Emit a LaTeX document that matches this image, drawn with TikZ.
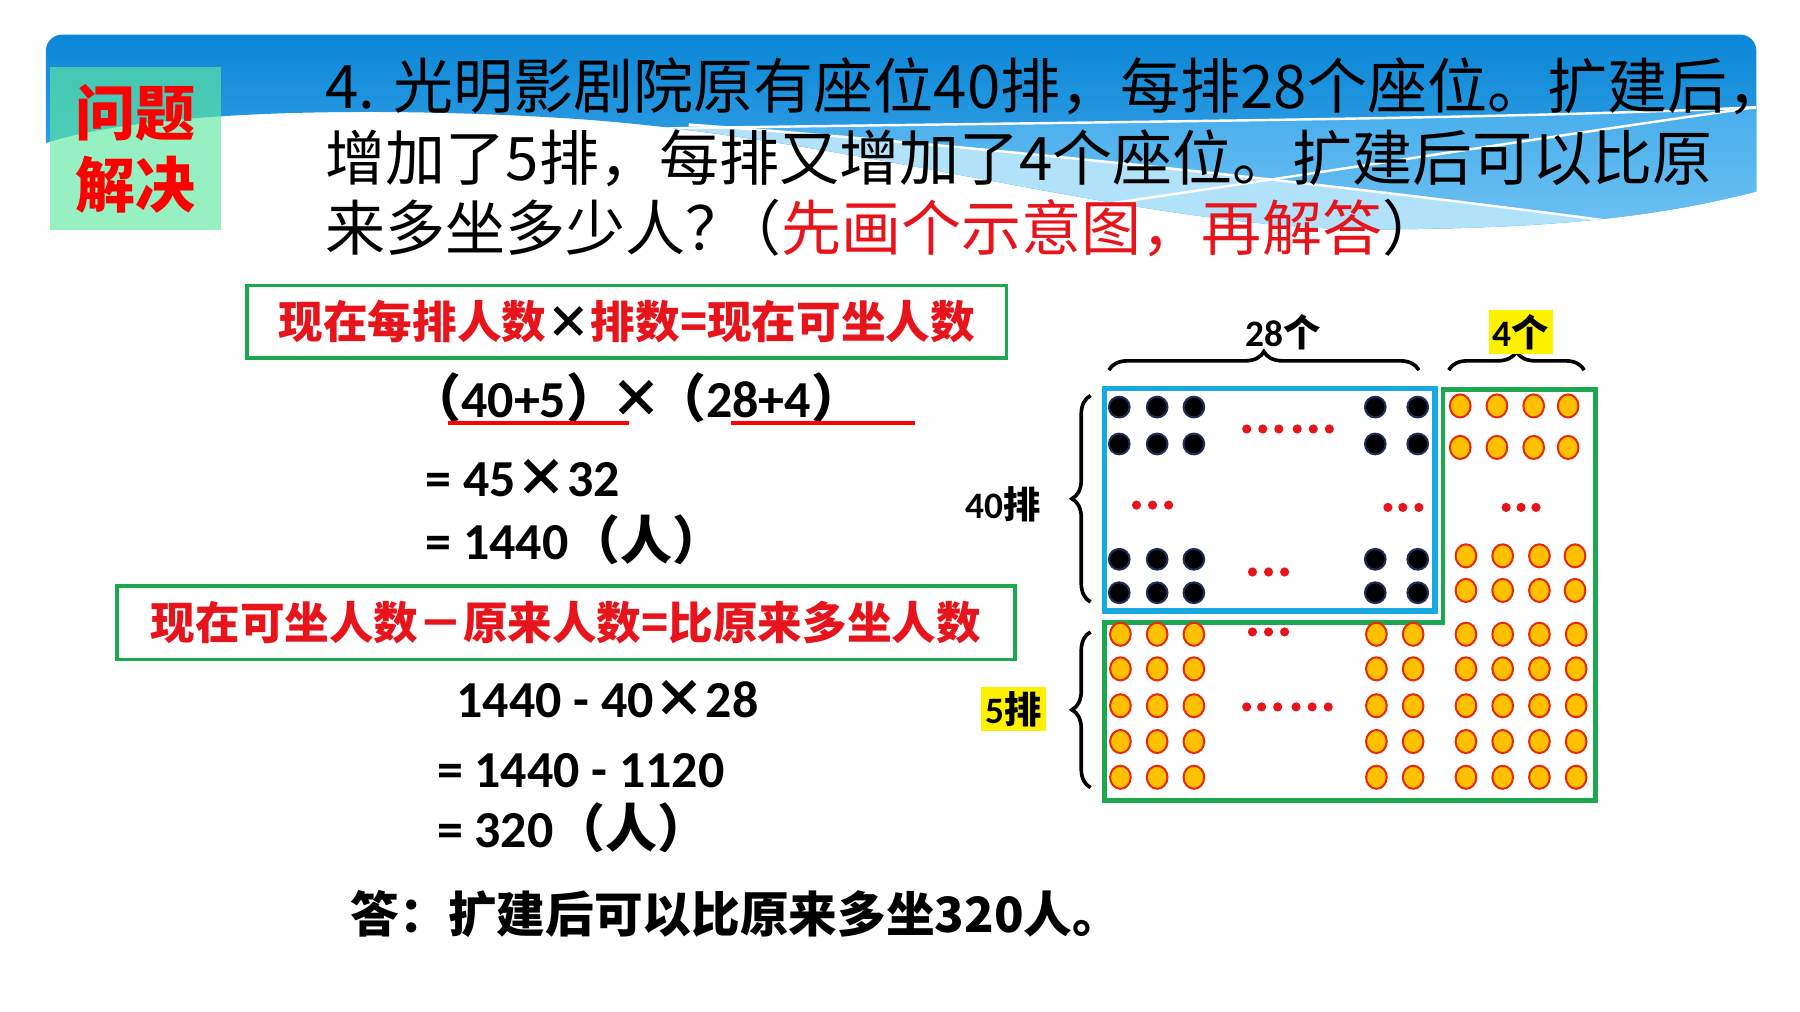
\documentclass[tikz,border=0pt]{standalone}
\usepackage{fontspec}
\setmainfont{Carlito}
\newfontfamily\cjk{Noto Sans CJK SC}
\usepackage{tikz}
\usetikzlibrary{positioning,decorations.pathreplacing}

\definecolor{boxgreen}{HTML}{1BA84E}
\definecolor{seatblue}{HTML}{16A9E2}
\definecolor{hintred}{HTML}{E8141C}
\definecolor{seatorange}{HTML}{FFC000}
\definecolor{rimred}{HTML}{E42A10}
\definecolor{seatnavy}{HTML}{1F2F5A}
\definecolor{bandtop}{HTML}{0B86D6}
\definecolor{bandlow}{HTML}{48AEEC}
\definecolor{bandmid}{HTML}{7CC8F4}
\definecolor{bandpale}{HTML}{B2E1FA}
\definecolor{mintfill}{HTML}{5EE8A0}

\tikzset{
  qtext/.style={anchor=west, inner sep=0pt, font=\cjk\fontsize{14.8}{17}\selectfont},
  titlebox/.style={fill=mintfill, fill opacity=0.65, text opacity=1, minimum width=1.48cm, minimum height=1.41cm,
    align=center, text=red, font=\cjk\bfseries\fontsize{14.8}{17.6}\selectfont},
  rulebox/.style={draw=boxgreen, line width=0.9pt, inner sep=0pt, text=hintred,
    font=\cjk\bfseries\fontsize{11}{13}\selectfont},
  eqline/.style={anchor=west, inner sep=0pt, font=\bfseries\fontsize{12.8}{15}\selectfont},
  answer/.style={anchor=west, inner sep=0pt, font=\cjk\bfseries\fontsize{12}{14}\selectfont},
  seatlbl/.style={inner sep=1pt, font=\bfseries\fontsize{9.2}{11}\selectfont},
  marklbl/.style={seatlbl, fill=yellow},
  curly/.style={decorate, decoration={brace, amplitude=4.6pt}, line width=0.9pt},
  underl/.style={draw=red, line width=0.9pt},
  wave/.style={white, line width=0.6pt},
  blackseat/.style={fill=black, draw=seatnavy, line width=0.5pt},
  newseat/.style={fill=seatorange, draw=rimred, line width=0.5pt},
  gap/.style={fill=hintred}
}

\begin{document}
\begin{tikzpicture}[x=0.00995cm, y=-0.01cm]
\useasboundingbox (0,0) rectangle (1568,877);

% banner
\shade[top color=bandtop, bottom color=bandlow] (40,124) [rounded corners=4pt] -- (40,30) -- (1530,30) -- (1530,110) [sharp corners] -- (1530,166)
  .. controls (1430,192) and (1330,198) .. (1200,199) .. controls (1000,200) and (750,120) .. (500,103)
  .. controls (330,92) and (130,95) .. (40,124) -- cycle;
\begin{scope}
  \clip (40,124) -- (40,30) -- (1530,30) -- (1530,166)
    .. controls (1430,192) and (1330,198) .. (1200,199) .. controls (1000,200) and (750,120) .. (500,103)
    .. controls (330,92) and (130,95) .. (40,124) -- cycle;
  \shade[top color=bandlow, bottom color=bandmid] (540,112) .. controls (900,106) and (1300,104) .. (1530,93) -- (1530,240) -- (540,240) -- cycle;
  \fill[bandpale] (600,108) .. controls (900,130) and (1200,165) .. (1405,192) -- (1405,240) -- (600,240) -- cycle;
  \draw[wave] (540,112) .. controls (900,106) and (1300,104) .. (1530,93);
  \draw[wave] (600,108) .. controls (900,130) and (1200,165) .. (1405,192);
  \draw[wave] (970,176) .. controls (1150,150) and (1350,118) .. (1530,93);
\end{scope}

\node[titlebox] (title) at (118,129) {问题\\解决};

% question
\node[qtext] (q1) at (283,75) {4. 光明影剧院原有座位40排，每排28个座位。扩建后，};
\node[qtext] (q2) at (283,137) {增加了5排，每排又增加了4个座位。扩建后可以比原};
\node[qtext] (q3) at (283,198) {来多坐多少人？\kern-0.4em（\textcolor{hintred}{先画个示意图，再解答}）};

% solution
\node[rulebox, minimum width=6.58cm, minimum height=0.63cm] (rule1) at (546,279) {现在每排人数{\color{black}×}排数=现在可坐人数};
\node[eqline] (eq1) at (356,345) {{\cjk（}40+5{\cjk）}\kern-0.15em{\cjk ×}\kern-0.15em{\cjk（}28+4{\cjk）}};
\coordinate (u1a) at (390,367); \coordinate (u1b) at (548,367);
\coordinate (u2a) at (637,367); \coordinate (u2b) at (797,367);
\draw[underl] (u1a) -- (u1b);
\draw[underl] (u2a) -- (u2b);
\node[eqline] (eq2) at (370,415) {= 45{\cjk ×}32};
\node[eqline] (eq3) at (370,468) {= 1440{\cjk（人）}};

\node[rulebox, minimum width=7.78cm, minimum height=0.64cm] (rule2) at (493,540) {现在可坐人数－原来人数=比原来多坐人数};
\node[eqline] (eq4) at (397,606) {1440 - 40{\cjk ×}28};
\node[eqline] (eq5) at (380,668) {= 1440 - 1120};
\node[eqline] (eq6) at (380,718) {= 320{\cjk（人）}};

\node[answer] (ans) at (305,793) {答：扩建后可以比原来多坐320人。};

% seats
\draw[seatblue, line width=1.4pt] (962,337) rectangle (1250,530);
\draw[boxgreen, line width=1.2pt] (962,540) -- (1257,540) -- (1257,338) -- (1390,338) -- (1390,694) -- (962,694) -- cycle;

\foreach \x in {975,1008,1040,1198,1235}
  \foreach \y in {353,385,485,514}
    \filldraw[blackseat] (\x,\y) circle [radius=9];
\foreach \x in {1272,1304,1336,1366}
  \foreach \y in {352,388}
    \filldraw[newseat] (\x,\y) ellipse [x radius=9, y radius=10];
\foreach \x in {1277,1309,1341,1372}
  \foreach \y in {482,512}
    \filldraw[newseat] (\x,\y) ellipse [x radius=9, y radius=10];
\foreach \x in {976,1008,1040,1199,1231,1277,1309,1341,1373}
  \foreach \y in {550,580,612,643,674}
    \filldraw[newseat] (\x,\y) ellipse [x radius=9, y radius=10];

% dots
\foreach \x in {1086,1100,1114,1130,1144,1158} \fill[gap] (\x,372) circle [radius=4];
\foreach \x in {990,1004,1018} \fill[gap] (\x,438) circle [radius=4];
\foreach \x in {1209,1222,1236} \fill[gap] (\x,440) circle [radius=4];
\foreach \x in {1312,1325,1338} \fill[gap] (\x,440) circle [radius=4];
\foreach \x in {1091,1105,1119} \fill[gap] (\x,496) circle [radius=4];
\foreach \x in {1091,1105,1119} \fill[gap] (\x,548) circle [radius=4];
\foreach \x in {1086,1099,1113,1129,1143,1157} \fill[gap] (\x,613) circle [radius=4];

% braces
\coordinate (b28a) at (966,321); \coordinate (b28b) at (1236,321);
\coordinate (b4a) at (1262,321); \coordinate (b4b) at (1380,321);
\coordinate (b40a) at (950,522); \coordinate (b40b) at (950,343);
\coordinate (b5a) at (950,683); \coordinate (b5b) at (950,548);
\draw[curly] (b28a) -- (b28b);
\draw[curly] (b4a) -- (b4b);
\draw[curly] (b40a) -- (b40b);
\draw[curly] (b5a) -- (b5b);

\node[seatlbl] (cols28) at (1118,288) {28{\cjk 个}};
\node[marklbl] (cols4) at (1325,288) {4{\cjk 个}};
\node[seatlbl] (rows40) at (874,437) {40{\cjk 排}};
\node[marklbl] (rows5) at (883,615) {5{\cjk 排}};

\end{tikzpicture}
\end{document}
